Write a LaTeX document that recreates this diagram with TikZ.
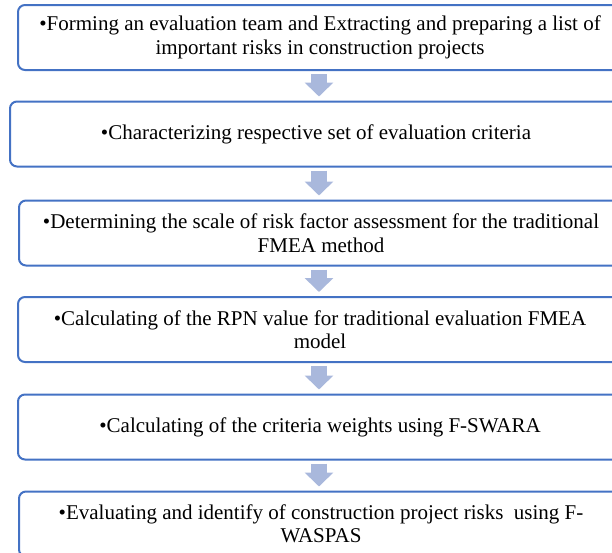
\documentclass[tikz,border=0pt]{standalone}
\usepackage{fontspec}
\setmainfont{Liberation Serif}
\usetikzlibrary{arrows.meta}

\definecolor{stageblue}{HTML}{4472C4}
\definecolor{arrowblue}{HTML}{A9B8DC}

\tikzset{
    stage/.style={draw=stageblue, line width=2pt, rounded corners=7pt,
        minimum width=604pt, minimum height=65pt, align=center,
        font=\fontsize{21}{23.5}\selectfont},
    flow/.style={draw=arrowblue, line width=16pt,
        -{Triangle[width=28pt,length=14pt]}, shorten <=3pt, shorten >=4pt}
}

\begin{document}
\begin{tikzpicture}[x=1pt,y=-1pt]

    \useasboundingbox (0,0) rectangle (612,552);

    \node[stage] (team) at (320,37.5)
        {•Forming an evaluation team and Extracting and preparing a list of\\important risks in construction projects};

    \node[stage, minimum width=612pt] (criteria) at (316,134)
        {•Characterizing respective set of evaluation criteria};

    \node[stage] (scale) at (321,233)
        {•Determining the scale of risk factor assessment for the traditional\\FMEA method};

    \node[stage] (rpn) at (320,329.5)
        {•Calculating of the RPN value for traditional evaluation FMEA\\model};

    \node[stage] (weights) at (320,427)
        {•Calculating of the criteria weights using F-SWARA};

    \node[stage] (waspas) at (321,524)
        {•Evaluating and identify of construction project risks~ using F-\\WASPAS};

    \draw[flow] (team.south -| 319,0) -- (criteria.north -| 319,0);
    \draw[flow] (criteria.south -| 319,0) -- (scale.north -| 319,0);
    \draw[flow] (scale.south -| 319,0) -- (rpn.north -| 319,0);
    \draw[flow] (rpn.south -| 319,0) -- (weights.north -| 319,0);
    \draw[flow] (weights.south -| 319,0) -- (waspas.north -| 319,0);

\end{tikzpicture}
\end{document}
